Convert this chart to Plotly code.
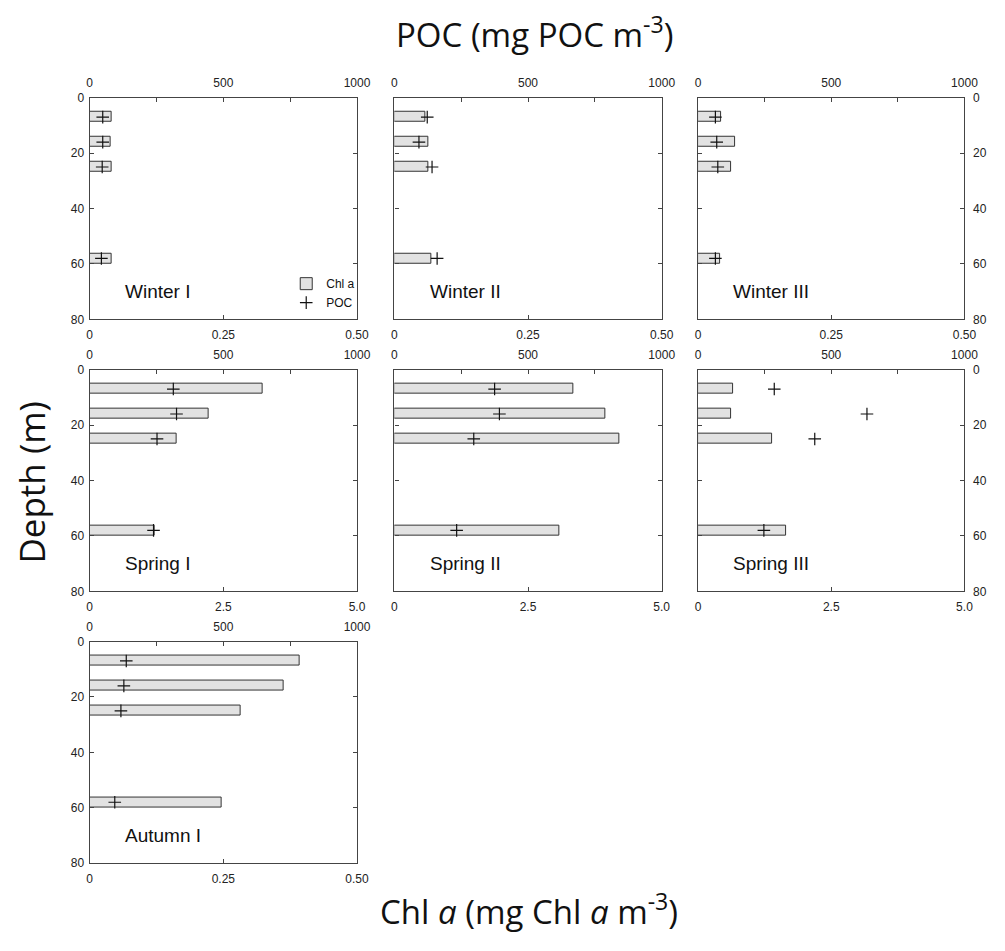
import plotly.graph_objects as go

# ---------------- data ----------------
depths = [7, 16, 25, 58]  # sampling depth (m)

panel_names = ["Winter I", "Winter II", "Winter III",
               "Spring I", "Spring II", "Spring III", "Autumn I"]

# Chl a (mg Chl a m-3)
chl_winter1 = [0.042, 0.040, 0.042, 0.041]
chl_winter2 = [0.058, 0.063, 0.064, 0.069]
chl_winter3 = [0.044, 0.069, 0.061, 0.041]
chl_spring1 = [3.24, 2.23, 1.62, 1.21]
chl_spring2 = [3.35, 3.94, 4.20, 3.09]
chl_spring3 = [0.66, 0.61, 1.39, 1.65]
chl_autumn1 = [0.393, 0.363, 0.282, 0.247]

# POC (mg POC m-3)
poc_winter1 = [49, 49, 47, 44]
poc_winter2 = [123, 92, 141, 160]
poc_winter3 = [65, 70, 74, 65]
poc_spring1 = [313, 325, 252, 239]
poc_spring2 = [375, 393, 297, 233]
poc_spring3 = [286, 634, 438, 247]
poc_autumn1 = [137, 128, 117, 94]

chl_series = [chl_winter1, chl_winter2, chl_winter3,
              chl_spring1, chl_spring2, chl_spring3, chl_autumn1]
poc_series = [poc_winter1, poc_winter2, poc_winter3,
              poc_spring1, poc_spring2, poc_spring3, poc_autumn1]

chl_max = [0.5, 0.5, 0.5, 5.0, 5.0, 5.0, 0.5]
chl_ticks_small = ["0", "0.25", "0.50"]
chl_ticks_large = ["0", "2.5", "5.0"]
poc_major = [0, 500, 1000]
poc_minor = [250, 750]
depth_ticks = [0, 20, 40, 60, 80]

# ---------------- layout ----------------
OFF = 8        # body margin of the html page
W, H = 997, 943
col_px = [(88, 360), (398, 670), (707, 978)]   # target page pixels
row_px = [(92, 317), (368, 593), (644, 869)]


def px(x):
    return (x - OFF) / W


def py(y):
    return 1 - (y - OFF) / H


def xdom(c):
    return [px(col_px[c][0]), px(col_px[c][1])]


def ydom(r):
    return [py(row_px[r][1]), py(row_px[r][0])]


def key(prefix, n):
    return prefix if n == 1 else f"{prefix}{n}"


ARIAL = "Liberation Sans, Arial, sans-serif"
TICKFONT = dict(family=ARIAL, size=12, color="#222")
LINEC = "#444"

fig = go.Figure()
annotations = []
npan = len(panel_names)

for i, name in enumerate(panel_names):
    r, c = divmod(i, 3)
    nb = i + 1
    nt = i + 1 + npan
    ny = i + 1
    fig.add_trace(go.Bar(
        x=chl_series[i], y=depths, orientation="h", width=3.6,
        xaxis=key("x", nb), yaxis=key("y", ny),
        marker=dict(color="#e2e2e2", line=dict(color="#333", width=1)),
        name="Chl a", legendrank=1, showlegend=(i == 0)))
    fig.add_trace(go.Scatter(
        x=poc_series[i], y=depths, mode="markers",
        xaxis=key("x", nt), yaxis=key("y", ny),
        marker=dict(symbol="cross-thin", size=9, color="#111",
                    line=dict(color="#111", width=1.2)),
        name="POC", legendrank=2, showlegend=(i == 0)))

    mx = chl_max[i]
    ticktext = chl_ticks_small if mx < 1 else chl_ticks_large
    fig.layout[key("xaxis", nb)] = dict(
        domain=xdom(c), anchor=key("y", ny), range=[0, mx],
        tickvals=[0, mx / 2, mx], ticktext=ticktext,
        ticks="inside", ticklen=4, tickcolor=LINEC, tickwidth=1,
        showline=True, mirror=True, linecolor=LINEC, linewidth=1.3,
        showgrid=False, zeroline=False, tickfont=TICKFONT,
        ticklabelstandoff=4)
    fig.layout[key("xaxis", nt)] = dict(
        overlaying=key("x", nb), side="top", anchor=key("y", ny),
        range=[0, 1000], tickvals=poc_major,
        ticks="inside", ticklen=4, tickcolor=LINEC, tickwidth=1,
        minor=dict(tickvals=poc_minor, ticks="inside", ticklen=4,
                   tickcolor=LINEC, tickwidth=1, showgrid=False),
        showline=False, showgrid=False, zeroline=False, tickfont=TICKFONT,
        ticklabelstandoff=7)
    fig.layout[key("yaxis", ny)] = dict(
        domain=ydom(r), anchor=key("x", nb), range=[80, 0],
        tickvals=depth_ticks, ticks="inside", ticklen=4, tickcolor=LINEC,
        showline=True, mirror="ticks", linecolor=LINEC, linewidth=1.3,
        showgrid=False, zeroline=False, tickfont=TICKFONT,
        side="right" if c == 2 else "left",
        ticklabelstandoff=5 if c == 2 else 2,
        showticklabels=(c != 1))

    annotations.append(dict(
        text=name, xref=f"{key('x', nb)} domain", yref=key("y", ny),
        x=0.125, y=70, xanchor="left", yanchor="middle", showarrow=False,
        font=dict(family=ARIAL, size=19, color="#111")))

TITLEFONT = dict(family="Open Sans, sans-serif", size=33, color="#111")
annotations += [
    dict(text="POC (mg POC m<sup>-3</sup>)", xref="paper", yref="paper",
         x=px(541), y=py(26), xanchor="center", yanchor="middle",
         showarrow=False, font=TITLEFONT),
    dict(text="Chl <i>a</i> (mg Chl <i>a</i> m<sup>-3</sup>)", xref="paper", yref="paper",
         x=px(535), y=py(916), xanchor="center", yanchor="middle",
         showarrow=False, font=TITLEFONT),
    dict(text="Depth (m)", xref="paper", yref="paper",
         x=px(29), y=py(482), xanchor="center", yanchor="middle",
         textangle=-90, showarrow=False,
         font=dict(family="Open Sans, sans-serif", size=35, color="#111")),
]

fig.update_layout(
    width=W, height=H, margin=dict(l=0, r=0, t=0, b=0),
    paper_bgcolor="white", plot_bgcolor="white",
    showlegend=True, bargap=0,
    legend=dict(x=px(288), y=py(266), xanchor="left", yanchor="top",
                bgcolor="rgba(0,0,0,0)", borderwidth=0,
                font=dict(family=ARIAL, size=12, color="#111"),
                itemwidth=30, tracegroupgap=0),
    annotations=annotations,
)

fig.write_html("out.html")
